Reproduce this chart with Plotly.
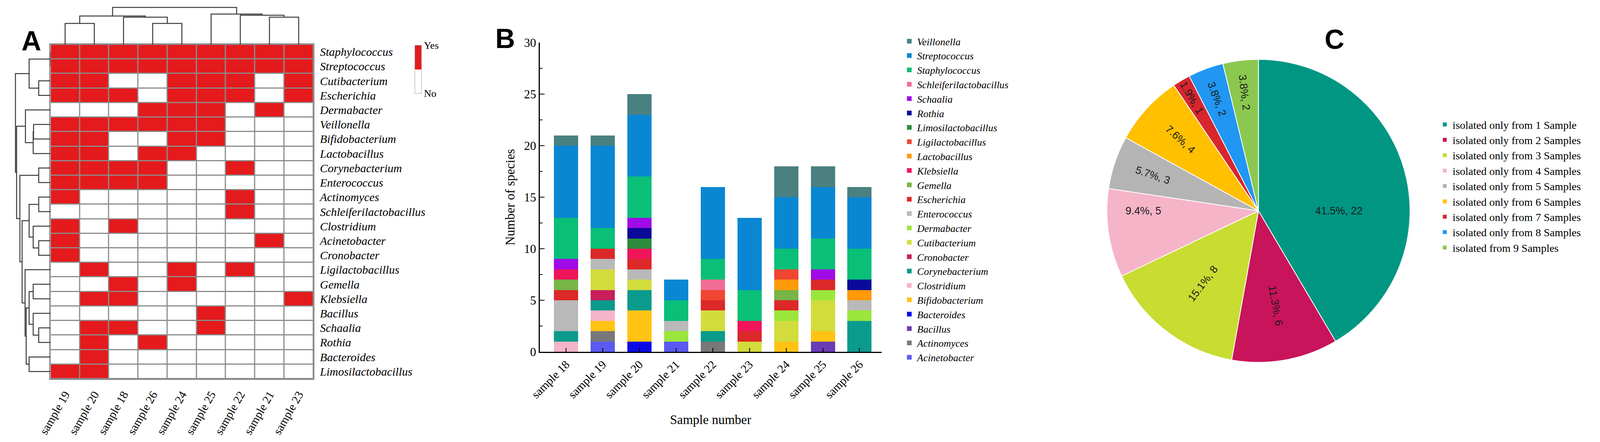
import plotly.graph_objects as go

# reference canvas (used for relative placement) and the drawn figure size
REF_W, REF_H = 4328, 1132
FIG_W, FIG_H = 4086, 1132
RED = "#e41a1c"
GRIDGRAY = "#8c8c8c"
SERIF = "Liberation Serif"
SANS = "Liberation Sans"

# ---------------- Panel A data ----------------
hm_samples = ["sample 19", "sample 20", "sample 18", "sample 26", "sample 24",
              "sample 25", "sample 22", "sample 21", "sample 23"]
hm_genera = ["Staphylococcus", "Streptococcus", "Cutibacterium", "Escherichia",
             "Dermabacter", "Veillonella", "Bifidobacterium", "Lactobacillus",
             "Corynebacterium", "Enterococcus", "Actinomyces", "Schleiferilactobacillus",
             "Clostridium", "Acinetobacter", "Cronobacter", "Ligilactobacillus",
             "Gemella", "Klebsiella", "Bacillus", "Schaalia", "Rothia",
             "Bacteroides", "Limosilactobacillus"]
presence = [
    [1, 1, 1, 1, 1, 1, 1, 1, 1],
    [1, 1, 1, 1, 1, 1, 1, 1, 1],
    [1, 1, 0, 0, 1, 1, 1, 0, 1],
    [1, 1, 1, 0, 1, 1, 1, 0, 1],
    [0, 0, 0, 1, 1, 1, 0, 1, 0],
    [1, 1, 1, 1, 1, 1, 0, 0, 0],
    [1, 1, 0, 0, 1, 1, 0, 0, 0],
    [1, 1, 0, 1, 1, 0, 0, 0, 0],
    [1, 1, 1, 1, 0, 0, 1, 0, 0],
    [1, 1, 1, 1, 0, 0, 0, 0, 0],
    [1, 0, 0, 0, 0, 0, 1, 0, 0],
    [0, 0, 0, 0, 0, 0, 1, 0, 0],
    [1, 0, 1, 0, 0, 0, 0, 0, 0],
    [1, 0, 0, 0, 0, 0, 0, 1, 0],
    [1, 0, 0, 0, 0, 0, 0, 0, 0],
    [0, 1, 0, 0, 1, 0, 1, 0, 0],
    [0, 0, 1, 0, 1, 0, 0, 0, 0],
    [0, 1, 1, 0, 0, 0, 0, 0, 1],
    [0, 0, 0, 0, 0, 1, 0, 0, 0],
    [0, 1, 1, 0, 0, 1, 0, 0, 0],
    [0, 1, 0, 1, 0, 0, 0, 0, 0],
    [0, 1, 0, 0, 0, 0, 0, 0, 0],
    [1, 1, 0, 0, 0, 0, 0, 0, 0],
]
# dendrogram merges: (child_a, child_b, height); new cluster ids follow the leaves
row_merges = [
    (0, 1, 0), (2, 3, 32), (23, 24, 58), (5, 6, 46), (26, 7, 47), (4, 27, 68),
    (8, 9, 32), (10, 11, 32), (13, 14, 32), (12, 31, 47), (30, 32, 58),
    (16, 17, 47), (19, 20, 32), (18, 35, 47), (34, 36, 58), (21, 22, 58),
    (37, 38, 66), (15, 39, 69), (33, 40, 77), (29, 41, 83), (28, 42, 92),
    (25, 43, 95),
]
col_merges = [
    (0, 1, 54), (3, 4, 54), (2, 10, 70), (9, 11, 73),
    (7, 8, 70), (6, 13, 75), (5, 14, 78), (12, 15, 95),
]

# ---------------- Panel B data ----------------
bar_samples = ["sample 18", "sample 19", "sample 20", "sample 21", "sample 22",
               "sample 23", "sample 24", "sample 25", "sample 26"]
Acinetobacter = [0, 1, 0, 1, 0, 0, 0, 0, 0]
Actinomyces = [0, 1, 0, 0, 1, 0, 0, 0, 0]
Bacillus = [0, 0, 0, 0, 0, 0, 0, 1, 0]
Bacteroides = [0, 0, 1, 0, 0, 0, 0, 0, 0]
Bifidobacterium = [0, 1, 3, 0, 0, 0, 1, 1, 0]
Clostridium = [1, 1, 0, 0, 0, 0, 0, 0, 0]
Corynebacterium = [1, 1, 2, 0, 1, 0, 0, 0, 3]
Cronobacter = [0, 1, 0, 0, 0, 0, 0, 0, 0]
Cutibacterium = [0, 2, 1, 0, 2, 1, 2, 3, 0]
Dermabacter = [0, 0, 0, 1, 0, 0, 1, 1, 1]
Enterococcus = [3, 1, 1, 1, 0, 0, 0, 0, 1]
Escherichia = [1, 1, 1, 0, 1, 1, 1, 1, 0]
Gemella = [1, 0, 0, 0, 0, 0, 1, 0, 0]
Klebsiella = [1, 0, 1, 0, 0, 1, 0, 0, 0]
Lactobacillus = [0, 0, 0, 0, 0, 0, 1, 0, 1]
Ligilactobacillus = [0, 0, 0, 0, 1, 0, 1, 0, 0]
Limosilactobacillus = [0, 0, 1, 0, 0, 0, 0, 0, 0]
Rothia = [0, 0, 1, 0, 0, 0, 0, 0, 1]
Schaalia = [1, 0, 1, 0, 0, 0, 0, 1, 0]
Schleiferilactobacillus = [0, 0, 0, 0, 1, 0, 0, 0, 0]
Staphylococcus = [4, 2, 4, 2, 2, 3, 2, 3, 3]
Streptococcus = [7, 8, 6, 2, 7, 7, 5, 5, 5]
Veillonella = [1, 1, 2, 0, 0, 0, 3, 2, 1]

bar_genera = ["Acinetobacter", "Actinomyces", "Bacillus", "Bacteroides",
              "Bifidobacterium", "Clostridium", "Corynebacterium", "Cronobacter",
              "Cutibacterium", "Dermabacter", "Enterococcus", "Escherichia",
              "Gemella", "Klebsiella", "Lactobacillus", "Ligilactobacillus",
              "Limosilactobacillus", "Rothia", "Schaalia", "Schleiferilactobacillus",
              "Staphylococcus", "Streptococcus", "Veillonella"]
bar_values = [Acinetobacter, Actinomyces, Bacillus, Bacteroides, Bifidobacterium,
              Clostridium, Corynebacterium, Cronobacter, Cutibacterium, Dermabacter,
              Enterococcus, Escherichia, Gemella, Klebsiella, Lactobacillus,
              Ligilactobacillus, Limosilactobacillus, Rothia, Schaalia,
              Schleiferilactobacillus, Staphylococcus, Streptococcus, Veillonella]
bar_colors = ["#5a5af0", "#787878", "#6a3cb4", "#0a0ae6", "#ffc314", "#f5b4c8",
              "#0a9b8c", "#c81e5a", "#d2dc3c", "#9be63c", "#b9b9b9", "#dc2828",
              "#78b446", "#f0145a", "#ff9a0a", "#f04632", "#2e8b3c", "#0a0a9a",
              "#a00ae6", "#f06e96", "#0abf78", "#0a87d2", "#4a8080"]

# ---------------- Panel C data ----------------
pie_labels = ["isolated only from 1 Sample", "isolated only from 2 Samples",
              "isolated only from 3 Samples", "isolated only from 4 Samples",
              "isolated only from 5 Samples", "isolated only from 6 Samples",
              "isolated only from 7 Samples", "isolated only from 8 Samples",
              "isolated from 9 Samples"]
pie_counts = [22, 6, 8, 5, 3, 4, 1, 2, 2]
pie_text = ["41.5%, 22", "11.3%, 6", "15.1%, 8", "9.4%, 5", "5.7%, 3",
            "7.6%, 4", "1.9%, 1", "3.8%, 2", "3.8%, 2"]
pie_colors = ["#009682", "#c8145a", "#c8dc32", "#f5b4c8", "#b4b4b4",
              "#ffc000", "#d7262e", "#2196f3", "#8cc850"]


def px_x(p):
    return p / REF_W


def px_y(p):
    return 1 - p / REF_H


def dendro(n_leaves, merges):
    pos = {i: float(i) for i in range(n_leaves)}
    hgt = {i: 0.0 for i in range(n_leaves)}
    ps, hs = [], []
    for k, (a, b, h) in enumerate(merges):
        nid = n_leaves + k
        ps += [pos[a], pos[a], pos[b], pos[b], None]
        hs += [hgt[a], h, h, hgt[b], None]
        pos[nid] = (pos[a] + pos[b]) / 2
        hgt[nid] = h
    return ps, hs


fig = go.Figure()

# --- heatmap ---
GL, GR, GT, GB = 128.5, 841, 106, 962
fig.add_trace(go.Heatmap(
    z=presence, x=list(range(len(hm_samples))), y=list(range(len(hm_genera))),
    colorscale=[[0, "#ffffff"], [0.5, "#ffffff"], [0.5, RED], [1, RED]],
    zmin=0, zmax=1, xgap=3, ygap=3, hoverinfo="skip",
    colorbar=dict(
        x=px_x(1116), xanchor="left", y=px_y(108), yanchor="top",
        lenmode="pixels", len=123, thicknessmode="pixels", thickness=17,
        tickvals=[0, 1], ticktext=["No", "Yes"], ticks="",
        tickfont=dict(family=SERIF, size=26, color="black"),
        outlinewidth=1, outlinecolor="#999999", xpad=0, ypad=0,
    ),
    xaxis="x", yaxis="y",
))

rp, rh = dendro(len(hm_genera), row_merges)
fig.add_trace(go.Scatter(x=rh, y=rp, mode="lines", xaxis="x2", yaxis="y2",
                         line=dict(color="#3a3a3a", width=2.5), showlegend=False,
                         hoverinfo="skip"))
cp, ch = dendro(len(hm_samples), col_merges)
fig.add_trace(go.Scatter(x=cp, y=ch, mode="lines", xaxis="x3", yaxis="y3",
                         line=dict(color="#3a3a3a", width=2.5), showlegend=False,
                         hoverinfo="skip"))

# --- stacked bars ---
for g, vals, c in zip(bar_genera, bar_values, bar_colors):
    fig.add_trace(go.Bar(x=bar_samples, y=vals, name="<i>%s</i>" % g,
                         marker=dict(color=c, line=dict(width=0)), width=0.66,
                         xaxis="x4", yaxis="y4", legend="legend"))

# --- pie ---
PIE_CX, PIE_CY, PIE_R = 3404, 532, 388
pie_half_w = PIE_R * REF_W / FIG_W
fig.add_trace(go.Pie(
    labels=pie_labels, values=pie_counts, text=pie_text, textinfo="text",
    texttemplate="%{text}", sort=False, direction="clockwise", rotation=0,
    marker=dict(colors=pie_colors, line=dict(color="white", width=2)),
    insidetextorientation="radial", textposition="inside",
    textfont=dict(family=SANS, size=27, color="#1a1a1a"),
    domain=dict(x=[px_x(PIE_CX - pie_half_w), px_x(PIE_CX + pie_half_w)],
                y=[px_y(PIE_CY + PIE_R), px_y(PIE_CY - PIE_R)]),
    legend="legend2", hoverinfo="skip",
))

fig.add_shape(type="rect", xref="x", yref="y", x0=-0.5, x1=len(hm_samples) - 0.5,
              y0=-0.5, y1=len(hm_genera) - 0.5, fillcolor=GRIDGRAY,
              line=dict(width=0), layer="below")

noaxis = dict(visible=False, showgrid=False, zeroline=False, fixedrange=True)

fig.update_layout(
    width=FIG_W, height=FIG_H, margin=dict(l=0, r=0, t=0, b=0),
    paper_bgcolor="white", plot_bgcolor="white",
    barmode="stack", showlegend=True,
    xaxis=dict(domain=[px_x(GL), px_x(GR)], range=[-0.5, 8.5],
               tickvals=list(range(len(hm_samples))), ticktext=hm_samples,
               tickangle=-60, ticks="", showgrid=False, zeroline=False,
               showline=True, mirror=True, linecolor=GRIDGRAY, linewidth=3,
               tickfont=dict(family=SERIF, size=30, color="black"),
               ticklabelstandoff=8, automargin=False),
    yaxis=dict(domain=[px_y(GB), px_y(GT)], range=[22.5, -0.5],
               tickvals=list(range(len(hm_genera))),
               ticktext=["<i>%s</i>" % g for g in hm_genera], side="right",
               ticks="", showgrid=False, zeroline=False, showline=True, mirror=True,
               linecolor=GRIDGRAY, linewidth=3,
               tickfont=dict(family=SERIF, size=30, color="black"),
               ticklabelstandoff=8, automargin=False),
    xaxis2=dict(domain=[px_x(GL - 100), px_x(GL)], range=[100, 0], **noaxis),
    yaxis2=dict(domain=[px_y(GB), px_y(GT)], range=[22.5, -0.5], anchor="x2", **noaxis),
    xaxis3=dict(domain=[px_x(GL), px_x(GR)], range=[-0.5, 8.5], anchor="y3", **noaxis),
    yaxis3=dict(domain=[px_y(GT), px_y(GT - 100)], range=[0, 100], anchor="x3", **noaxis),
    xaxis4=dict(domain=[px_x(1455), px_x(2382)], range=[-0.72, 8.6], anchor="y4",
                type="category", tickangle=-45, ticks="inside", ticklen=10,
                tickwidth=2, tickcolor="black", showline=True, linecolor="black",
                linewidth=3, showgrid=False, zeroline=False,
                tickfont=dict(family=SERIF, size=30, color="black"),
                title=dict(text="Sample number", standoff=38,
                           font=dict(family=SERIF, size=33, color="black")),
                automargin=False),
    yaxis4=dict(domain=[px_y(893), px_y(101)], range=[0, 30], anchor="x4",
                tick0=0, dtick=5, ticks="inside", ticklen=12, tickwidth=2,
                tickcolor="black", showline=True, linecolor="black", linewidth=3,
                showgrid=False, zeroline=False,
                minor=dict(ticks="inside", ticklen=7, tickwidth=2, dtick=2.5,
                           tickcolor="black", showgrid=False),
                tickfont=dict(family=SERIF, size=31, color="black"),
                title=dict(text="Number of species", standoff=14,
                           font=dict(family=SERIF, size=33, color="black")),
                automargin=False),
    legend=dict(x=px_x(2436), y=px_y(74), xanchor="left", yanchor="top",
                traceorder="reversed", font=dict(family=SERIF, size=26, color="black"),
                bgcolor="rgba(0,0,0,0)", itemclick=False, itemdoubleclick=False,
                tracegroupgap=0),
    legend2=dict(x=px_x(3888), y=px_y(286), xanchor="left", yanchor="top",
                 font=dict(family=SERIF, size=28, color="black"),
                 bgcolor="rgba(0,0,0,0)", itemclick=False, itemdoubleclick=False),
    annotations=[
        dict(text="<b>A</b>", x=px_x(48), y=px_y(56), xref="paper", yref="paper",
             showarrow=False, font=dict(family=SANS, size=70, color="black")),
        dict(text="<b>B</b>", x=px_x(1332), y=px_y(50), xref="paper", yref="paper",
             showarrow=False, font=dict(family=SANS, size=70, color="black")),
        dict(text="<b>C</b>", x=px_x(3640), y=px_y(52), xref="paper", yref="paper",
             showarrow=False, font=dict(family=SANS, size=70, color="black")),
    ],
)

fig.write_html("out.html")
